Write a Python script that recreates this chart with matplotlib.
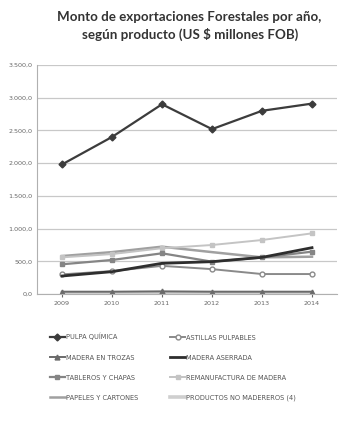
import matplotlib
matplotlib.use("Agg")
import matplotlib.pyplot as plt
from matplotlib.ticker import FuncFormatter

years = [2009, 2010, 2011, 2012, 2013, 2014]
pulpa_quimica = [1980, 2400, 2900, 2520, 2800, 2910]
astillas_pulpables = [300, 350, 430, 380, 305, 305]
madera_en_trozas = [35, 35, 40, 35, 35, 35]
madera_aserrada = [275, 341, 469, 494, 560, 708]
tableros_y_chapas = [454, 520, 622, 494, 558, 647]
remanufactura = [560, 610, 700, 749, 825, 927]
papeles_y_cartones = [580, 640, 723, 640, 560, 570]
productos_no_madereros = [20, 20, 22, 22, 20, 20]

labels = ["PULPA QUÍMICA", "ASTILLAS PULPABLES", "MADERA EN TROZAS", "MADERA ASERRADA",
          "TABLEROS Y CHAPAS", "REMANUFACTURA DE MADERA", "PAPELES Y CARTONES",
          "PRODUCTOS NO MADEREROS (4)"]
series = [pulpa_quimica, astillas_pulpables, madera_en_trozas, madera_aserrada,
          tableros_y_chapas, remanufactura, papeles_y_cartones, productos_no_madereros]
styles = [
    dict(color="#3c3c3c", marker="D", lw=1.6, ms=3.5),
    dict(color="#8a8a8a", marker="o", lw=1.4, ms=3.5, mfc="white"),
    dict(color="#6a6a6a", marker="^", lw=1.4, ms=3.5),
    dict(color="#2e2e2e", marker=None, lw=2.0, ms=0),
    dict(color="#858585", marker="s", lw=1.6, ms=3.5),
    dict(color="#c4c4c4", marker="s", lw=1.4, ms=3.5),
    dict(color="#a0a0a0", marker=None, lw=1.8, ms=0),
    dict(color="#cfcfcf", marker=None, lw=2.6, ms=0),
]

fig = plt.figure(figsize=(3.48, 4.21), dpi=100)
ax = fig.add_axes([37/348, 1-294/421, 300/348, 229/421])

order = [7, 6, 5, 4, 2, 1, 3, 0]
handles = {}
for i in order:
    st = styles[i]
    h, = ax.plot(years, series[i], color=st["color"], marker=st["marker"], lw=st["lw"],
                 ms=st["ms"], mfc=st.get("mfc", st["color"]), mec=st["color"], label=labels[i])
    handles[i] = h

ax.set_xlim(2008.5, 2014.5)
ax.set_ylim(0, 3500)
ax.set_yticks(range(0, 3501, 500))
ax.set_xticks(years)
ax.yaxis.set_major_formatter(FuncFormatter(lambda v, p: f"{int(v):,}".replace(",", ".") + ",0"))
ax.grid(axis="y", color="#c8c8c8", lw=0.9)
ax.set_axisbelow(True)
for s in ["top", "right"]:
    ax.spines[s].set_visible(False)
ax.spines["left"].set_color("#b0b0b0")
ax.spines["bottom"].set_color("#b0b0b0")
ax.tick_params(axis="both", labelsize=4.6, colors="#666666", length=0, pad=3)
ax.tick_params(axis="x", length=2)

fig.text(0.545, 0.975, "Monto de exportaciones Forestales por año,\nsegún producto (US $ millones FOB)",
         ha="center", va="top", fontsize=9.6, fontweight="bold", family="Lato",
         color="#333333", linespacing=1.45)

leg_order = [0, 2, 4, 6, 1, 3, 5, 7]
fig.legend([handles[i] for i in leg_order], [labels[i] for i in leg_order], loc="upper left",
           bbox_to_anchor=(44/348, 1-327/421), ncol=2, frameon=False,
           fontsize=4.8, handlelength=2.2, handletextpad=0.2, columnspacing=4.8,
           labelspacing=2.1, labelcolor="#555555")

fig.savefig("out.png", dpi=100)
